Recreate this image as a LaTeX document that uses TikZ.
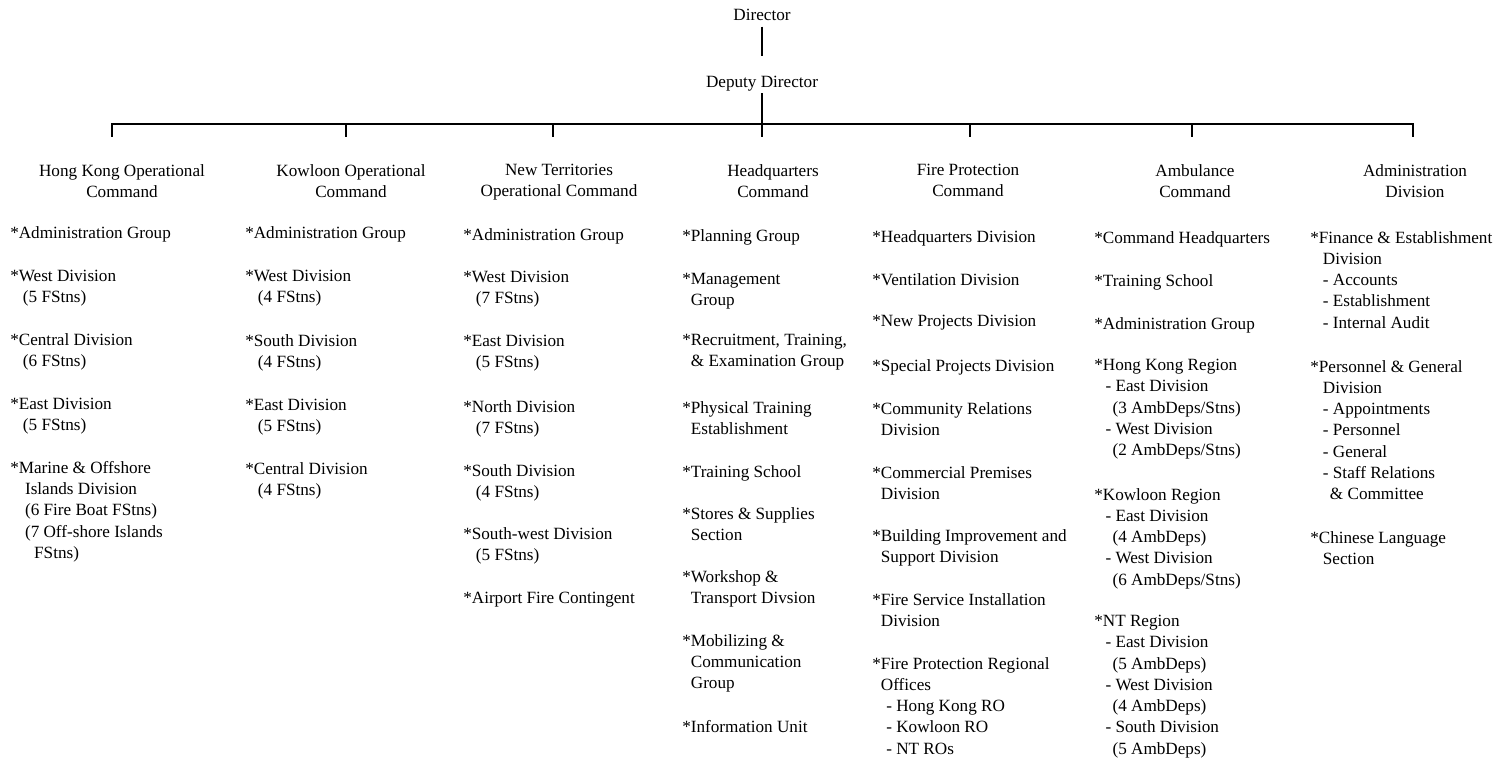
\documentclass[tikz,border=0pt]{standalone}
\usepackage{fontspec}
\setmainfont{Liberation Serif}
\newcommand{\chartfont}{\fontsize{12.2}{15.1}\selectfont}
\newcommand{\ind}[1]{\hspace*{#1}}

\begin{document}
\begin{tikzpicture}[
  x=0.025cm, y=-0.025cm,
  head/.style={align=center, anchor=north, inner sep=0pt, font=\chartfont},
  unit/.style={align=left, anchor=north west, inner sep=0pt, font=\chartfont},
  link/.style={line width=1.5pt}
]
\path[fill=white] (0,0) rectangle (1511,760);

% director and deputy
\node[head] (dir) at (762,9)  {Director};
\node[head] (dep) at (762,76) {Deputy Director};
\draw[link, shorten <=4pt, shorten >=14pt] (dir) -- (dep);
\coordinate (bar) at (762,124);
\draw[link, shorten <=1pt] (dep) -- (bar);

% commands
\node[head] (hk)  at (122,164)  {Hong Kong Operational\\Command};
\node[head] (kow) at (351,164)  {Kowloon Operational\\Command};
\node[head] (nt)  at (559,164)  {New Territories\\Operational Command};
\node[head] (hq)  at (773,164)  {Headquarters\\Command};
\node[head] (fp)  at (968,164)  {Fire Protection\\Command};
\node[head] (amb) at (1195,164) {Ambulance\\Command};
\node[head] (adm) at (1415,164) {Administration\\Division};

\foreach \name/\x in {hk/112, kow/346, nt/553, hq/762, fp/970, amb/1192, adm/1413}
  \coordinate (t-\name) at (\x,124);
\draw[link, line cap=rect] (t-hk) -- (t-adm);
\foreach \name in {hk, kow, nt, hq, fp, amb, adm}
  \draw[link, shorten >=19pt] (t-\name) -- (t-\name |- \name.north);

% Hong Kong Operational Command
\node[unit] (hk1) at (10,226) {*Administration Group};
\node[unit] (hk2) at (10,270) {*West Division\\\ind{9pt}(5 FStns)};
\node[unit] (hk3) at (10,333) {*Central Division\\\ind{9pt}(6 FStns)};
\node[unit] (hk4) at (10,398) {*East Division\\\ind{9pt}(5 FStns)};
\node[unit] (hk5) at (10,461) {*Marine \& Offshore\\\ind{10.5pt}Islands Division\\\ind{10.5pt}(6 Fire Boat FStns)\\\ind{10.5pt}(7 Off-shore Islands\\\ind{17pt}FStns)};

% Kowloon Operational Command
\node[unit] (kow1) at (245,226) {*Administration Group};
\node[unit] (kow2) at (245,270) {*West Division\\\ind{9pt}(4 FStns)};
\node[unit] (kow3) at (245,334) {*South Division\\\ind{9pt}(4 FStns)};
\node[unit] (kow4) at (245,399) {*East Division\\\ind{9pt}(5 FStns)};
\node[unit] (kow5) at (245,462) {*Central Division\\\ind{9pt}(4 FStns)};

% New Territories Operational Command
\node[unit] (nt1) at (463,228) {*Administration Group};
\node[unit] (nt2) at (463,271) {*West Division\\\ind{9pt}(7 FStns)};
\node[unit] (nt3) at (463,335) {*East Division\\\ind{9pt}(5 FStns)};
\node[unit] (nt4) at (463,400) {*North Division\\\ind{9pt}(7 FStns)};
\node[unit] (nt5) at (463,464) {*South Division\\\ind{9pt}(4 FStns)};
\node[unit] (nt6) at (463,527) {*South-west Division\\\ind{9pt}(5 FStns)};
\node[unit] (nt7) at (463,592) {*Airport Fire Contingent};

% Headquarters Command
\node[unit] (hq1) at (682,229) {*Planning Group};
\node[unit] (hq2) at (682,273) {*Management\\\phantom{*}Group};
\node[unit] (hq3) at (682,334) {*Recruitment, Training,\\\phantom{*}\& Examination Group};
\node[unit] (hq4) at (682,401) {*Physical Training\\\phantom{*}Establishment};
\node[unit] (hq5) at (682,465) {*Training School};
\node[unit] (hq6) at (682,507) {*Stores \& Supplies\\\phantom{*}Section};
\node[unit] (hq7) at (682,570) {*Workshop \&\\\phantom{*}Transport Divsion};
\node[unit] (hq8) at (682,634) {*Mobilizing \&\\\phantom{*}Communication\\\phantom{*}Group};
\node[unit] (hq9) at (682,720) {*Information Unit};

% Fire Protection Command
\node[unit] (fp1) at (872,230) {*Headquarters Division};
\node[unit] (fp2) at (872,273) {*Ventilation Division};
\node[unit] (fp3) at (872,315) {*New Projects Division};
\node[unit] (fp4) at (872,359) {*Special Projects Division};
\node[unit] (fp5) at (872,402) {*Community Relations\\\phantom{*}Division};
\node[unit] (fp6) at (872,466) {*Commercial Premises\\\phantom{*}Division};
\node[unit] (fp7) at (872,529) {*Building Improvement and\\\phantom{*}Support Division};
\node[unit] (fp8) at (872,593) {*Fire Service Installation\\\phantom{*}Division};
\node[unit] (fp9) at (872,657) {*Fire Protection Regional\\\phantom{*}Offices\\\ind{10pt}- Hong Kong RO\\\ind{10pt}- Kowloon RO\\\ind{10pt}- NT ROs};

% Ambulance Command
\node[unit] (amb1) at (1094,231) {*Command Headquarters};
\node[unit] (amb2) at (1094,274) {*Training School};
\node[unit] (amb3) at (1094,317) {*Administration Group};
\node[unit] (amb4) at (1094,359) {*Hong Kong Region\\\ind{8pt}- East Division\\\ind{13pt}(3 AmbDeps/Stns)\\\ind{8pt}- West Division\\\ind{13pt}(2 AmbDeps/Stns)};
\node[unit] (amb5) at (1094,488) {*Kowloon Region\\\ind{8pt}- East Division\\\ind{13pt}(4 AmbDeps)\\\ind{8pt}- West Division\\\ind{13pt}(6 AmbDeps/Stns)};
\node[unit] (amb6) at (1094,615) {*NT Region\\\ind{8pt}- East Division\\\ind{13pt}(5 AmbDeps)\\\ind{8pt}- West Division\\\ind{13pt}(4 AmbDeps)\\\ind{8pt}- South Division\\\ind{13pt}(5 AmbDeps)};

% Administration Division
\node[unit] (adm1) at (1310,231) {*Finance \& Establishment\\\ind{9pt}Division\\\ind{9pt}- Accounts\\\ind{9pt}- Establishment\\\ind{9pt}- Internal Audit};
\node[unit] (adm2) at (1310,360) {*Personnel \& General\\\ind{9pt}Division\\\ind{9pt}- Appointments\\\ind{9pt}- Personnel\\\ind{9pt}- General\\\ind{9pt}- Staff Relations\\\ind{14pt}\& Committee};
\node[unit] (adm3) at (1310,531) {*Chinese Language\\\ind{9pt}Section};
\end{tikzpicture}
\end{document}
